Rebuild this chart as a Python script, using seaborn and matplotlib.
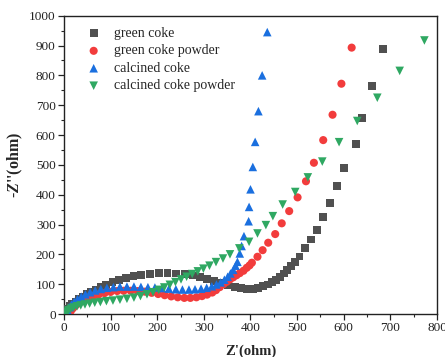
import matplotlib
matplotlib.use("Agg")
import matplotlib.pyplot as plt
import seaborn as sns
import pandas as pd
from matplotlib.ticker import MultipleLocator

# ---- data ----
gc_x = [3, 7, 12, 18, 25, 32, 40, 49, 58, 68, 79, 91, 104, 118, 133, 149, 166, 184, 203, 222,
        241, 259, 276, 292, 307, 322, 337, 352, 366, 380, 393, 405, 416, 427, 437, 446, 455, 463,
        471, 479, 487, 495, 505, 516, 529, 542, 556, 570, 586, 601, 626, 640, 660, 684]
gc_y = [10, 18, 26, 34, 42, 50, 58, 66, 74, 82, 90, 98, 106, 114, 121, 127, 132, 135, 137, 137,
        136, 133, 129, 124, 118, 112, 105, 98, 92, 87, 83, 85, 88, 93, 99, 106, 114, 124,
        136, 148, 160, 174, 193, 220, 250, 283, 324, 372, 428, 490, 571, 657, 763, 887]

gp_x = [12, 15, 19, 24, 30, 37, 45, 54, 64, 75, 87, 100, 114, 128, 143, 158, 173, 188, 202, 216,
        230, 244, 258, 271, 284, 296, 307, 318, 326, 334, 342, 349, 356, 363, 370, 377, 385, 392,
        398, 403, 415, 426, 438, 453, 467, 483, 501, 519, 536, 556, 576, 595, 617]
gp_y = [3, 11, 19, 27, 35, 42, 49, 55, 61, 66, 70, 74, 77, 78, 78, 77, 75, 71, 67, 63,
        59, 56, 54, 54, 56, 60, 65, 72, 80, 90, 100, 108, 116, 123, 130, 137, 145, 155,
        163, 172, 192, 214, 239, 268, 304, 345, 391, 445, 507, 583, 668, 772, 893]

cc_x = [4, 7, 11, 16, 22, 29, 37, 46, 56, 67, 79, 92, 106, 120, 135, 150, 165, 180, 195, 210,
        225, 240, 254, 268, 281, 294, 306, 317, 327, 336, 344, 351, 357, 363, 368, 372, 377, 381,
        386, 396, 397, 400, 405, 410, 417, 425, 436]
cc_y = [5, 14, 23, 32, 41, 50, 58, 66, 73, 79, 84, 88, 90, 92, 92, 92, 91, 90, 89, 87,
        85, 83, 82, 82, 83, 85, 88, 93, 99, 106, 115, 125, 136, 148, 162, 175, 203, 228,
        261, 311, 359, 418, 493, 577, 680, 800, 945]

cp_x = [3, 6, 10, 15, 21, 28, 36, 45, 55, 66, 78, 91, 105, 120, 135, 150, 164, 178, 191, 203,
        215, 227, 239, 251, 263, 275, 287, 299, 312, 326, 341, 356, 376, 397, 415, 433, 448, 469,
        496, 523, 554, 590, 629, 672, 720, 773]
cp_y = [3, 8, 13, 18, 22, 26, 29, 32, 35, 38, 40, 43, 45, 48, 51, 55, 60, 66, 73, 81,
        89, 98, 107, 116, 125, 134, 143, 152, 162, 174, 186, 200, 220, 242, 270, 298, 328, 367,
        409, 458, 511, 576, 647, 725, 815, 917]

labels = ["green coke", "green coke powder", "calcined coke", "calcined coke powder"]
x_ticks = [0, 100, 200, 300, 400, 500, 600, 700, 800]
y_ticks = [0, 100, 200, 300, 400, 500, 600, 700, 800, 900, 1000]

# ---- style ----
sns.set_style("ticks")
plt.rcParams["font.family"] = ["Liberation Serif", "DejaVu Serif"]
plt.rcParams["mathtext.fontset"] = "custom"
plt.rcParams["mathtext.rm"] = "Liberation Serif"
plt.rcParams["mathtext.bf"] = "Liberation Serif:bold"
plt.rcParams["mathtext.bfit"] = "Liberation Serif:italic:bold"
plt.rcParams["mathtext.it"] = "Liberation Serif:italic"

colors = ["#505050", "#F23C3C", "#1A6FDF", "#2FA862"]
markers = ["s", "o", "^", "v"]
sizes = [32, 34, 38, 38]

fig = plt.figure(figsize=(4.45, 3.57), dpi=100)
ax = fig.add_axes([0.1438, 0.1204, 0.8382, 0.8356])

series = [(gc_x, gc_y), (gp_x, gp_y), (cc_x, cc_y), (cp_x, cp_y)]
for (xs, ys), lab, c, m, s in zip(series, labels, colors, markers, sizes):
    df = pd.DataFrame({"x": xs, "y": ys})
    sns.scatterplot(data=df, x="x", y="y", marker=m, color=c, s=s,
                    edgecolor="none", linewidth=0, label=lab, ax=ax, zorder=3)

ax.set_xlim(0, 800)
ax.set_ylim(0, 1000)
ax.set_xticks(x_ticks)
ax.set_yticks(y_ticks)
ax.xaxis.set_minor_locator(MultipleLocator(50))
ax.yaxis.set_minor_locator(MultipleLocator(50))
ax.tick_params(which="major", direction="out", length=4, width=0.9,
               labelsize=9.5, colors="#222222", pad=2)
ax.tick_params(which="minor", direction="out", length=2.2, width=0.8)
ax.tick_params(top=False, right=False, which="both")
for sp in ax.spines.values():
    sp.set_visible(True)
    sp.set_linewidth(1.0)
    sp.set_color("#222222")

ax.set_xlabel("Z'(ohm)", fontsize=10.5, fontweight="bold", labelpad=7)
ax.set_ylabel(r"-$\mathbfit{Z}$''(ohm)", fontsize=11.5, fontweight="bold", labelpad=3)

leg = ax.legend(loc="upper left", frameon=False, fontsize=10,
                bbox_to_anchor=(0.02, 0.99), handletextpad=0.45,
                labelspacing=0.32, borderaxespad=0.2, markerscale=1.0)

fig.savefig("out.png", dpi=100, facecolor="white")
